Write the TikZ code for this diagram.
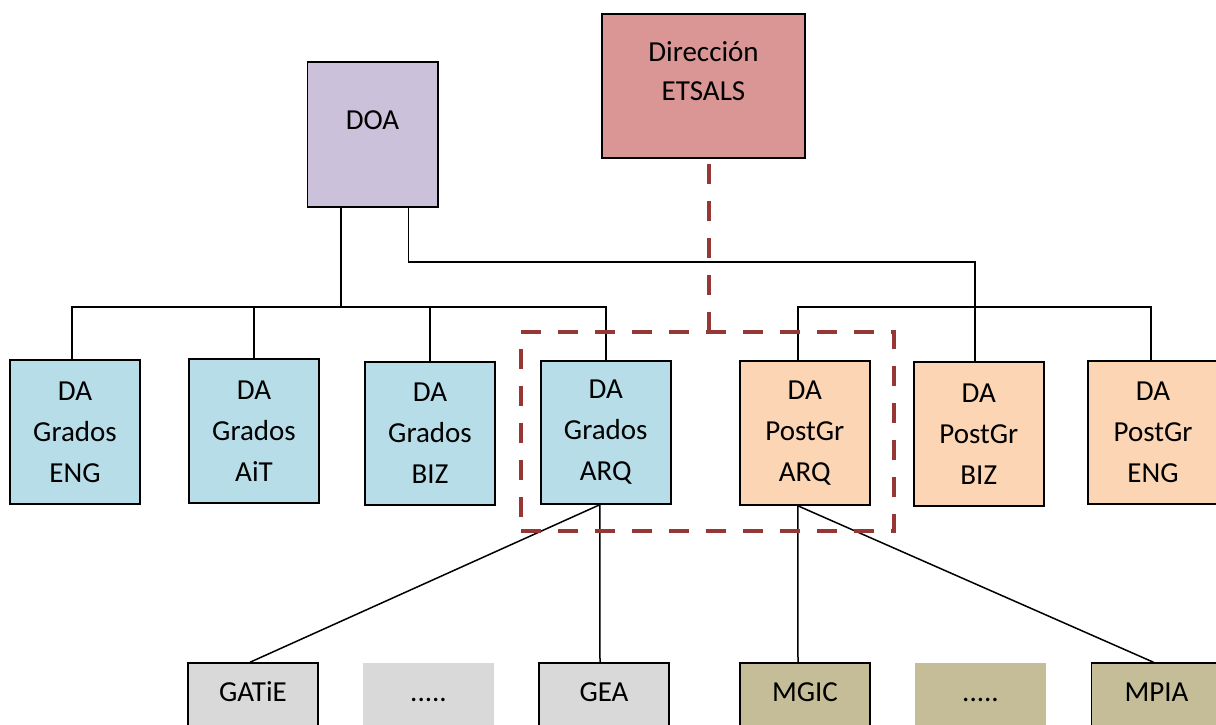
\documentclass[tikz,border=0pt]{standalone}
\usepackage{fontspec}
\setmainfont{Carlito}
\usetikzlibrary{calc}
\definecolor{doacol}{HTML}{CCC1DA}
\definecolor{dircol}{HTML}{D99694}
\definecolor{gradcol}{HTML}{B7DEE8}
\definecolor{postcol}{HTML}{FCD5B5}
\definecolor{grycol}{HTML}{D9D9D9}
\definecolor{khacol}{HTML}{C4BD97}
\definecolor{dashcol}{HTML}{953735}
\tikzset{
  box/.style={draw=black, line width=1.5pt, minimum width=130pt, inner sep=0pt, align=center,
    font={\fontsize{29}{41}\selectfont}},
  plainbox/.style={minimum width=131pt, inner sep=0pt},
  lbl/.style={anchor=base, inner sep=0pt, font={\fontsize{29}{41}\selectfont}},
  conn/.style={line width=1.5pt, black},
  dashline/.style={line width=4.3pt, dashcol, dash pattern=on 20pt off 17pt}
}
\begin{document}
\begin{tikzpicture}[x=1pt,y=-1pt]
\useasboundingbox (0,0) rectangle (1216,724);
\clip (0,0) rectangle (1216,724);
\fill[white] (0,0) rectangle (1216,724);
% top boxes
\node[box, fill=dircol, minimum width=203pt, minimum height=144pt] (dir) at (703.5,86) {};
\node[lbl] (dirt1) at (703.5,61.2) {Dirección};
\node[lbl] (dirt2) at (703.5,100.2) {ETSALS};
\node[box, fill=doacol, minimum width=130.5pt, minimum height=145pt] (doa) at (372.5,134.5) {};
\node[lbl] (doat) at (372.5,129.2) {DOA};
% second row
\node[box, fill=gradcol, minimum height=144pt] (gENG) at (75,432) {DA\\Grados\\ENG};
\node[box, fill=gradcol, minimum height=144pt] (gAiT) at (254,431) {DA\\Grados\\AiT};
\node[box, fill=gradcol, minimum height=143pt] (gBIZ) at (430,433.5) {DA\\Grados\\BIZ};
\node[box, fill=gradcol, minimum height=143pt] (gARQ) at (605.75,432.5) {DA\\Grados\\ARQ};
\node[box, fill=postcol, minimum height=144pt] (pARQ) at (804.75,433) {DA\\PostGr\\ARQ};
\node[box, fill=postcol, minimum height=144pt] (pBIZ) at (978.75,434) {DA\\PostGr\\BIZ};
\node[box, fill=postcol, minimum height=143pt] (pENG) at (1153,432.5) {DA\\PostGr\\ENG};
% bottom row
\node[box, fill=grycol, minimum height=97pt] (gatie) at (253,711.5) {};
\node[plainbox, fill=grycol, minimum height=97pt] (dots1) at (428.5,711.5) {};
\node[box, fill=grycol, minimum height=97pt] (gea) at (604,711.5) {};
\node[box, fill=khacol, minimum height=97pt] (mgic) at (805,711.5) {};
\node[plainbox, fill=khacol, minimum height=97pt] (dots2) at (980.5,711.5) {};
\node[box, fill=khacol, minimum height=97pt] (mpia) at (1156.5,711.5) {};
\node[lbl] (gatiet) at (253,701.2) {GATiE};
\node[lbl] (dots1t) at (428.5,701.2) {.....};
\node[lbl] (geat) at (604,701.2) {GEA};
\node[lbl] (mgict) at (805,701.2) {MGIC};
\node[lbl] (dots2t) at (980.5,701.2) {.....};
\node[lbl] (mpiat) at (1156.5,701.2) {MPIA};
% helper coordinates
\coordinate (gbus) at (0,307);
\coordinate (doaL) at (341,0);
\coordinate (doaR) at (408.5,262);
% connectors
\draw[conn] (doa.south -| doaL) -- (doaL |- gbus);
\draw[conn] ([xshift=-3pt]gENG.north) -- ([xshift=-3pt]gENG.north |- gbus) -- (gARQ.north |- gbus) -- (gARQ.north);
\draw[conn] (gAiT.north) -- (gAiT.north |- gbus);
\draw[conn] (gBIZ.north) -- (gBIZ.north |- gbus);
\draw[conn] (doa.south -| doaR) -- (doaR) -| ([xshift=-4pt]pBIZ.north);
\draw[conn] ([xshift=-7pt]pARQ.north) -- ([xshift=-7pt]pARQ.north |- gbus) -- ([xshift=-2pt]pENG.north |- gbus) -- ([xshift=-2pt]pENG.north);
\draw[conn] ([xshift=-6pt]gARQ.south) -- ([xshift=-3pt]gatie.north);
\draw[conn] ([xshift=-6pt]gARQ.south) -- ([xshift=-4pt]gea.north);
\draw[conn] ([xshift=-7pt]pARQ.south) -- ([xshift=-7pt]mgic.north);
\draw[conn] ([xshift=-7pt]pARQ.south) -- ([xshift=-3pt]mpia.north);
% dashed group
\node[draw=dashcol, line width=4.3pt, dash pattern=on 20pt off 17pt, minimum width=373pt, minimum height=199pt, inner sep=0pt] (grp) at (707.5,431.5) {};
\draw[dashline, shorten <=5pt] (dir.south -| 709,0) -- (709,0 |- grp.north);
\end{tikzpicture}
\end{document}
